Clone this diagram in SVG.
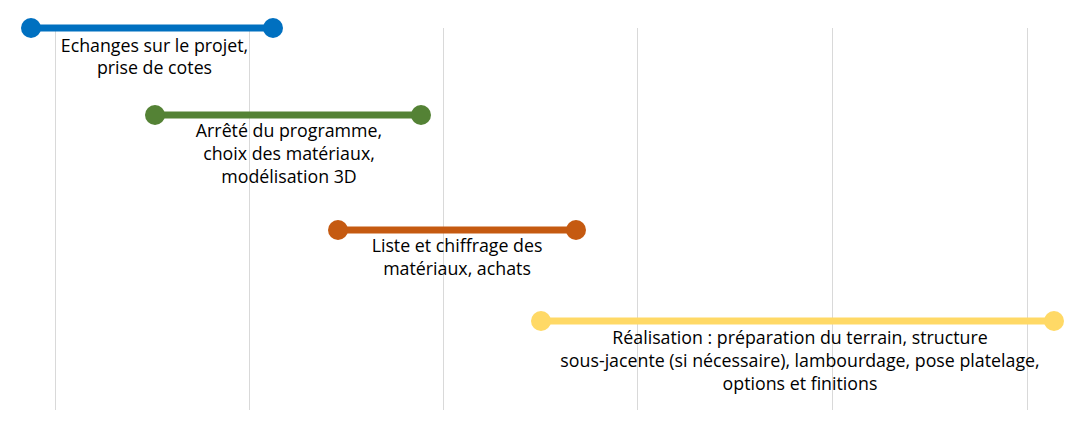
<svg xmlns="http://www.w3.org/2000/svg" width="1083" height="422" viewBox="0 0 1083 422">
<style>
.grid{stroke:#d9d9d9;stroke-width:1}
.bar{stroke-width:7;stroke-linecap:butt}
.lbl{font-family:"Open Sans","Liberation Sans",sans-serif;font-size:17.8px;fill:#000;text-anchor:middle}
</style>
<rect width="1083" height="422" fill="#fff"/>
<g id="grid">
<line class="grid" x1="55.5" y1="28" x2="55.5" y2="410"/>
<line class="grid" x1="249.5" y1="28" x2="249.5" y2="410"/>
<line class="grid" x1="443.5" y1="28" x2="443.5" y2="410"/>
<line class="grid" x1="637.5" y1="28" x2="637.5" y2="410"/>
<line class="grid" x1="832.5" y1="28" x2="832.5" y2="410"/>
<line class="grid" x1="1027.5" y1="28" x2="1027.5" y2="410"/>
</g>
<g id="connectors">
<g id="bar1" fill="#0070C0"><line class="bar" stroke="#0070C0" x1="31" y1="28" x2="273" y2="28"/><circle cx="31" cy="28" r="10"/><circle cx="273" cy="28" r="10"/></g>
<g id="bar2" fill="#548235"><line class="bar" stroke="#548235" x1="155" y1="115" x2="421" y2="115"/><circle cx="155" cy="115" r="10"/><circle cx="421" cy="115" r="10"/></g>
<g id="bar3" fill="#C55A11"><line class="bar" stroke="#C55A11" x1="338" y1="230" x2="576" y2="230"/><circle cx="338" cy="230" r="10"/><circle cx="576" cy="230" r="10"/></g>
<g id="bar4" fill="#FFD966"><line class="bar" stroke="#FFD966" x1="541" y1="321" x2="1054" y2="321"/><circle cx="541" cy="321" r="10"/><circle cx="1054" cy="321" r="10"/></g>
</g>
<g id="label1"><text class="lbl"><tspan x="154.5" y="52">Echanges sur le projet,</tspan><tspan x="154.5" y="74">prise de cotes</tspan></text></g>
<g id="label2"><text class="lbl"><tspan x="289" y="137">Arrêté du programme,</tspan><tspan x="289" y="160">choix des matériaux,</tspan><tspan x="289" y="183">modélisation 3D</tspan></text></g>
<g id="label3"><text class="lbl"><tspan x="457" y="252">Liste et chiffrage des</tspan><tspan x="457" y="275">matériaux, achats</tspan></text></g>
<g id="label4"><text class="lbl"><tspan x="800" y="344">Réalisation : préparation du terrain, structure</tspan><tspan x="800" y="367">sous-jacente (si nécessaire), lambourdage, pose platelage,</tspan><tspan x="800" y="390">options et finitions</tspan></text></g>
</svg>
